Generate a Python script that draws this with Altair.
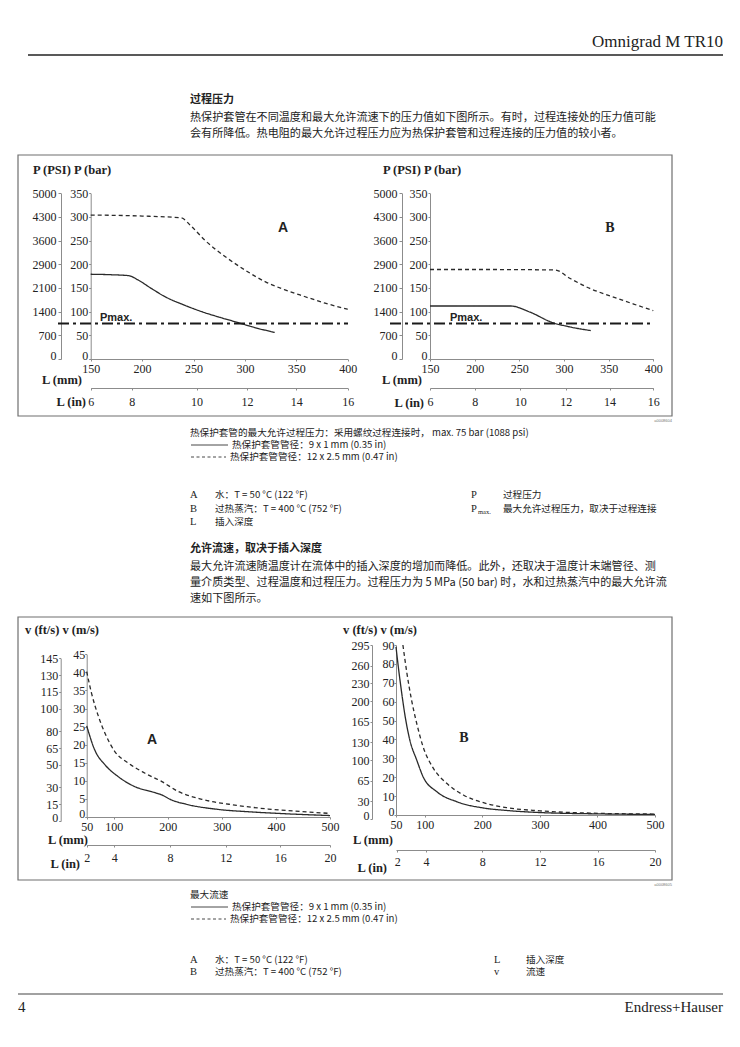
import json
import altair as alt
import pandas as pd

W, H = 724, 1031
M = 8

# ---------------- data: process pressure (bar) vs insertion length L (mm) ----------------
pA_solid_L = [150, 170, 187, 196, 209, 222, 242, 258, 274, 290, 307, 329]
pA_solid_P = [179, 178, 176, 167, 149, 132, 113, 100, 89, 79, 68, 56]
pA_dash_L = [150, 200, 238, 248, 261, 281, 300, 320, 339, 358, 378, 400]
pA_dash_P = [304, 302, 298, 280, 251, 216, 188, 163, 146, 132, 118, 105]

pB_solid_L = [150, 200, 240, 262, 287, 306, 330]
pB_solid_P = [112, 112, 112, 99, 77, 68, 60]
pB_dash_L = [150, 220, 290, 307, 329, 352, 378, 400]
pB_dash_P = [189, 189, 188, 170, 149, 133, 116, 102]

pmax_bar = [75]

bar_ticks = [0, 50, 100, 150, 200, 250, 300, 350]
psi_labels = ["0", "700", "1400", "2100", "2900", "3600", "4300", "5000"]
p_mm_ticks = [150, 200, 250, 300, 350, 400]
p_in_labels = ["6", "8", "10", "12", "14", "16"]
pA_in_pos = [150, 190, 253, 302, 350, 400]
pB_in_pos = [150, 200, 251, 302, 351, 400]

# ---------------- data: max. flow velocity (m/s) vs insertion length L (mm) ----------------
vA_solid_L = [50, 65, 84, 108, 139, 170, 189, 207, 232, 293, 355, 417, 500]
vA_solid_v = [25.2, 18.5, 14.4, 11.2, 8.4, 7.0, 6.1, 4.7, 3.6, 2.1, 1.4, 0.9, 0.4]
vA_dash_L = [50, 59, 72, 84, 102, 127, 158, 189, 220, 263, 324, 386, 448, 500]
vA_dash_v = [40.2, 34.2, 27.7, 23.1, 18.1, 14.9, 12.1, 9.8, 7.0, 4.9, 3.3, 2.2, 1.5, 1.0]

vB_solid_L = [50, 54, 60, 66, 74, 86, 97, 121, 156, 202, 242, 300, 400, 500]
vB_solid_v = [89, 78.5, 64.4, 52, 39.7, 29.1, 20.3, 12.3, 7.0, 3.7, 2.4, 1.3, 0.6, 0.3]
vB_dash_L = [62, 69, 77, 86, 97, 115, 138, 167, 202, 242, 300, 387, 500]
vB_dash_v = [90, 75, 60.9, 48.5, 36.2, 24.7, 16.8, 10.6, 6.5, 3.9, 2.2, 1.0, 0.5]

v_mm_ticks = [50, 100, 200, 300, 400, 500]
vA_ms_ticks = [0, 5, 10, 15, 20, 25, 30, 35, 40, 45]
vA_fts_ticks = [0, 15, 30, 50, 65, 80, 100, 115, 130, 145]
vB_ms_ticks = [0, 10, 20, 30, 40, 50, 60, 70, 80, 90]
vB_fts_ticks = [0, 30, 65, 100, 130, 165, 200, 230, 260, 295]
v_in_labels = ["2", "4", "8", "12", "16", "20"]
vA_in_pos = [50, 101, 204, 307, 408, 500]
vB_in_pos = [52, 102, 200, 300, 401, 500]

SERIF = "Liberation Serif"
SANS = "Liberation Sans"
CJK = "Noto Sans CJK SC"
INK = "#222222"
AXC = "#8c8c8c"


def px(v):
    return v - M


def scale(domain, rng):
    return alt.Scale(domain=domain, range=[px(rng[0]), px(rng[1])], nice=False, zero=False)


def axis(orient, line_pos, values, label_expr=None, tick=2, pad=1, size=12):
    off = px(line_pos) - H if orient == "bottom" else -px(line_pos)
    kw = dict(orient=orient, offset=off, values=values, title=None, grid=False,
              domainColor=AXC, domainWidth=1, tickColor=AXC, tickSize=tick, tickWidth=1,
              labelPadding=pad, labelFont=SERIF, labelFontSize=size, labelColor=INK,
              labelFlush=False, labelOverlap=False)
    if orient == "left":
        # the zero label sits just above its tick, clear of the L (mm) labels
        kw["labelBaseline"] = {"condition": {"test": "datum.value === 0", "value": "alphabetic"},
                               "value": "middle"}
    if label_expr:
        kw["labelExpr"] = label_expr
    return alt.Axis(**kw)


def mapped(positions, labels):
    return f"{json.dumps(labels)}[indexof({json.dumps(positions)}, datum.value)]"


def panel(sL, sv, dL, dv, xs, ys, xax, yax, pmax=None):
    df = pd.concat([
        pd.DataFrame({"L": sL, "v": sv, "s": "solid"}),
        pd.DataFrame({"L": dL, "v": dv, "s": "dash"}),
    ])
    X = alt.X("L:Q", scale=xs, axis=xax)
    Y = alt.Y("v:Q", scale=ys, axis=yax)
    lines = alt.Chart(df).mark_line(color="#2a2a2a", strokeWidth=1.3, interpolate="monotone").encode(
        x=X, y=Y,
        strokeDash=alt.StrokeDash("s:N", scale=alt.Scale(domain=["solid", "dash"], range=[[1, 0], [4, 3]]),
                                  legend=None),
    )
    if pmax is None:
        return lines
    rule = alt.Chart(pd.DataFrame({"v": pmax_bar})).mark_rule(
        color="#1a1a1a", strokeWidth=2, strokeDash=[11, 4, 3, 4]
    ).encode(y=Y, x=alt.value(px(pmax[0])), x2=alt.value(px(pmax[1])))
    return alt.layer(lines, rule)


def axis_only(channel, positions, sc, ax):
    df = pd.DataFrame({"p": positions})
    enc = alt.X("p:Q", scale=sc, axis=ax) if channel == "x" else alt.Y("p:Q", scale=sc, axis=ax)
    return alt.Chart(df).mark_point(opacity=0).encode(**{channel: enc})


def texts(items, font, size, weight="normal", align="left", color=INK):
    df = pd.DataFrame(items, columns=["t", "x", "y"])
    df["x"] = df["x"] - M
    df["y"] = df["y"] - M
    return alt.Chart(df).mark_text(font=font, fontSize=size, fontWeight=weight, align=align,
                                   baseline="middle", color=color).encode(
        x=alt.X("x:Q", scale=None, axis=None),
        y=alt.Y("y:Q", scale=None, axis=None),
        text="t:N",
    )


def segs(items, color="#333", width=1.0, dash=None):
    df = pd.DataFrame(items, columns=["x", "x2", "y"])
    df[["x", "x2", "y"]] = df[["x", "x2", "y"]] - M
    kw = dict(color=color, strokeWidth=width)
    if dash:
        kw["strokeDash"] = dash
    return alt.Chart(df).mark_rule(**kw).encode(
        x=alt.X("x:Q", scale=None, axis=None), x2="x2:Q",
        y=alt.Y("y:Q", scale=None, axis=None),
    )


def boxes(items):
    df = pd.DataFrame(items, columns=["x", "x2", "y", "y2"]) - M
    return alt.Chart(df).mark_rect(fill="white", fillOpacity=0, stroke="#6f6f6f", strokeWidth=1.2).encode(
        x=alt.X("x:Q", scale=None, axis=None), x2="x2:Q",
        y=alt.Y("y:Q", scale=None, axis=None), y2="y2:Q",
    )


layers = []

# frames of the two figure boxes
layers.append(boxes([(18, 672, 155, 416), (18, 672, 617, 880)]))

# ---------- pressure A ----------
pAx = scale([150, 400], [90.7, 347.7])
pAy = scale([0, 350], [359, 193.3])
layers.append(panel(pA_solid_L, pA_solid_P, pA_dash_L, pA_dash_P, pAx, pAy,
                    axis("bottom", 359, p_mm_ticks, tick=2, pad=2),
                    axis("left", 90.7, bar_ticks, tick=2, pad=1), pmax=(58, 348)))
layers.append(axis_only("y", bar_ticks, scale([0, 350], [359, 193.3]),
                        axis("left", 61, bar_ticks, mapped(bar_ticks, psi_labels), tick=3, pad=2)))
layers.append(axis_only("x", pA_in_pos, scale([150, 400], [90.7, 347.7]),
                        axis("bottom", 388, pA_in_pos, mapped(pA_in_pos, p_in_labels), tick=2, pad=6)))

# ---------- pressure B ----------
pBx = scale([150, 400], [430, 653.3])
pBy = scale([0, 350], [359, 193.3])
layers.append(panel(pB_solid_L, pB_solid_P, pB_dash_L, pB_dash_P, pBx, pBy,
                    axis("bottom", 359, p_mm_ticks, tick=2, pad=2),
                    axis("left", 430, bar_ticks, tick=2, pad=1), pmax=(390, 654)))
layers.append(axis_only("y", bar_ticks, scale([0, 350], [359, 193.3]),
                        axis("left", 402, bar_ticks, mapped(bar_ticks, psi_labels), tick=3, pad=2)))
layers.append(axis_only("x", pB_in_pos, scale([150, 400], [430, 653.3]),
                        axis("bottom", 388, pB_in_pos, mapped(pB_in_pos, p_in_labels), tick=2, pad=6)))

# ---------- velocity A ----------
vAx = scale([50, 500], [86.7, 330])
vAy = scale([0, 45], [817, 654.3])
layers.append(panel(vA_solid_L, vA_solid_v, vA_dash_L, vA_dash_v, vAx, vAy,
                    axis("bottom", 817, v_mm_ticks, tick=2, pad=2),
                    axis("left", 86.7, vA_ms_ticks, tick=2, pad=0)))
layers.append(axis_only("y", vA_fts_ticks, scale([0, 145], [821, 658.3]),
                        axis("left", 60.7, vA_fts_ticks, tick=2, pad=1)))
layers.append(axis_only("x", vA_in_pos, scale([50, 500], [86.7, 330]),
                        axis("bottom", 845, vA_in_pos, mapped(vA_in_pos, v_in_labels), tick=2, pad=5)))

# ---------- velocity B ----------
vBx = scale([50, 500], [396, 655])
vBy = scale([0, 90], [815, 645])
layers.append(panel(vB_solid_L, vB_solid_v, vB_dash_L, vB_dash_v, vBx, vBy,
                    axis("bottom", 815, v_mm_ticks, tick=2, pad=2),
                    axis("left", 396, vB_ms_ticks, tick=2, pad=0)))
layers.append(axis_only("y", vB_fts_ticks, scale([0, 295], [819, 645]),
                        axis("left", 372, vB_fts_ticks, tick=2, pad=1)))
layers.append(axis_only("x", vB_in_pos, scale([50, 500], [396, 655]),
                        axis("bottom", 850, vB_in_pos, mapped(vB_in_pos, v_in_labels), tick=2, pad=4)))

# ---------- page rules and legend line samples ----------
layers.append(segs([(28, 723, 55)], color="#222", width=1.6))
layers.append(segs([(18, 723, 994)], color="#444", width=1.2))
layers.append(segs([(191, 228, 445), (191, 228, 907)], color="#333", width=0.9))
layers.append(segs([(191, 226, 457), (191, 226, 919)], color="#333", width=0.9, dash=[3, 2.5]))

# ---------- chart labels ----------
layers.append(texts([
    ("P (PSI) P (bar)", 33, 170), ("P (PSI) P (bar)", 383, 170),
    ("v (ft/s)  v (m/s)", 25, 630), ("v (ft/s)  v (m/s)", 343, 630),
], SERIF, 12.5, weight="bold"))
layers.append(texts([
    ("L (mm)", 82, 380), ("L (mm)", 422, 380), ("L (in)", 86, 402), ("L (in)", 424, 403),
    ("L (mm)", 88, 840), ("L (mm)", 393, 840), ("L (in)", 80, 864), ("L (in)", 387, 868),
], SERIF, 12.5, weight="bold", align="right"))
layers.append(texts([("Pmax.", 100, 318), ("Pmax.", 450, 318)], SANS, 11, weight="bold"))
layers.append(texts([("A", 283, 228), ("A", 152, 740)], SANS, 14, weight="bold", align="center"))
layers.append(texts([("B", 610, 228), ("B", 464, 738)], SERIF, 14, weight="bold", align="center"))
layers.append(texts([("a0008604", 672, 421), ("a0008605", 672, 885)], SANS, 4, align="right", color="#777"))

# ---------- page header / footer ----------
layers.append(texts([("Omnigrad M TR10", 723, 42)], SERIF, 17, align="right"))
layers.append(texts([("Endress+Hauser", 723, 1007)], SERIF, 15, align="right"))
layers.append(texts([("4", 18, 1007)], SERIF, 15))

# ---------- body text ----------
layers.append(texts([("过程压力", 190, 100), ("允许流速，取决于插入深度", 190, 549)], CJK, 11, weight="bold"))
layers.append(texts([
    ("热保护套管在不同温度和最大允许流速下的压力值如下图所示。有时，过程连接处的压力值可能", 190, 118),
    ("会有所降低。热电阻的最大允许过程压力应为热保护套管和过程连接的压力值的较小者。", 190, 134),
    ("最大允许流速随温度计在流体中的插入深度的增加而降低。此外，还取决于温度计末端管径、测", 190, 567),
    ("量介质类型、过程温度和过程压力。过程压力为 5 MPa (50 bar) 时，水和过热蒸汽中的最大允许流", 190, 583),
    ("速如下图所示。", 190, 599),
], CJK, 11.1))

# ---------- captions / legends ----------
layers.append(texts([
    ("热保护套管的最大允许过程压力：采用螺纹过程连接时， max. 75 bar (1088 psi)", 190, 433),
    ("热保护套管管径：9 x 1 mm (0.35 in)", 232, 445),
    ("热保护套管管径：12 x 2.5 mm (0.47 in)", 230, 457),
    ("水：T = 50 °C (122 °F)", 215, 495),
    ("过热蒸汽：T = 400 °C (752 °F)", 215, 509),
    ("插入深度", 215, 522),
    ("过程压力", 503, 495),
    ("最大允许过程压力，取决于过程连接", 503, 509),
    ("最大流速", 190, 895),
    ("热保护套管管径：9 x 1 mm (0.35 in)", 232, 907),
    ("热保护套管管径：12 x 2.5 mm (0.47 in)", 230, 919),
    ("水：T = 50 °C (122 °F)", 215, 960),
    ("过热蒸汽：T = 400 °C (752 °F)", 215, 972),
    ("插入深度", 526, 960),
    ("流速", 526, 972),
], CJK, 9.6))
layers.append(texts([
    ("A", 190, 495), ("B", 190, 509), ("L", 190, 522), ("P", 471, 495), ("P", 471, 509),
    ("A", 190, 960), ("B", 190, 972), ("L", 494, 960), ("v", 494, 972),
], SERIF, 10.5))
layers.append(texts([("max.", 478, 512)], SERIF, 6.5))

chart = alt.layer(*layers).resolve_scale(
    x="independent", y="independent", strokeDash="independent"
).resolve_axis(
    x="independent", y="independent"
).properties(
    width=W, height=H, padding=0, autosize=alt.AutoSizeParams(type="none")
).configure_view(stroke=None)

chart.save("out.html", embed_options={"renderer": "svg", "actions": False})
